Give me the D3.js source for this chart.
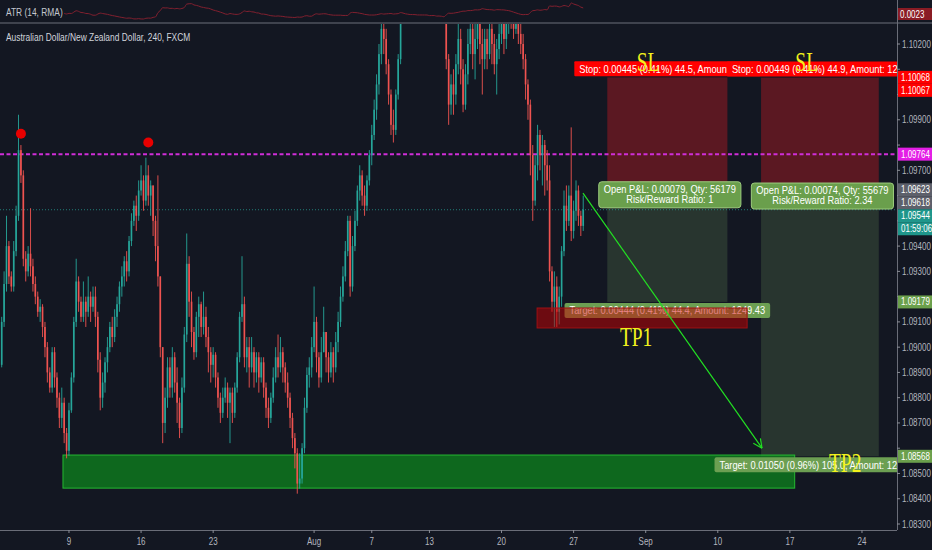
<!DOCTYPE html>
<html><head><meta charset="utf-8">
<script src="https://cdn.jsdelivr.net/npm/d3@7"></script>
<style>html,body{margin:0;padding:0;background:#131722;overflow:hidden}</style>
</head><body><svg id="c" width="932" height="550"></svg>
<script>
// ---------------- DATA (AUD/NZD, 240 min bars, FXCM; first bar 2018-07-02 08:00) ----------------
const firstOpen = 1.0893;
const closes = [1.0910,1.0925,1.0940,1.0928,1.0924,1.0938,1.0952,1.0978,1.0968,1.0935,
1.0930,1.0937,1.0932,1.0925,1.0920,1.0914,1.0916,1.0908,1.0900,1.0890,
1.0884,1.0898,1.0888,1.0880,1.0872,1.0878,1.0866,1.0859,1.0875,1.0888,
1.0910,1.0926,1.0918,1.0912,1.0918,1.0914,1.0920,1.0916,1.0920,1.0912,
1.0895,1.0880,1.0886,1.0894,1.0900,1.0908,1.0904,1.0912,1.0917,1.0924,
1.0928,1.0934,1.0930,1.0942,1.0950,1.0956,1.0952,1.0962,1.0966,1.0958,
1.0968,1.0960,1.0964,1.0950,1.0940,1.0928,1.0900,1.0870,1.0880,1.0892,
1.0884,1.0896,1.0886,1.0878,1.0868,1.0884,1.0905,1.0933,1.0918,1.0906,
1.0898,1.0912,1.0917,1.0908,1.0912,1.0904,1.0898,1.0893,1.0897,1.0888,
1.0880,1.0874,1.0880,1.0884,1.0878,1.0882,1.0874,1.0884,1.0896,1.0912,
1.0917,1.0896,1.0900,1.0892,1.0898,1.0890,1.0896,1.0888,1.0894,1.0884,
1.0876,1.0872,1.0880,1.0888,1.0896,1.0892,1.0898,1.0892,1.0886,1.0880,
1.0872,1.0864,1.0858,1.0846,1.0848,1.0860,1.0876,1.0889,1.0892,1.0900,
1.0910,1.0896,1.0888,1.0898,1.0906,1.0896,1.0890,1.0898,1.0892,1.0902,
1.0910,1.0920,1.0928,1.0938,1.0950,1.0924,1.0940,1.0950,1.0962,1.0968,
1.0960,1.0956,1.0966,1.0976,1.0984,1.0994,1.1004,1.1016,1.1026,1.1022,
1.1012,1.1000,1.0988,1.0986,1.1000,1.1014,1.1030,1.1040,1.1046,1.1052,
1.1048,1.1056,1.1062,1.1058,1.1064,1.1070,1.1066,1.1060,1.1064,1.1056,
1.1050,1.1054,1.1046,1.1040,1.1036,1.1014,1.0996,1.1004,1.1000,1.1012,
1.1022,1.1010,1.0996,1.1008,1.1020,1.1026,1.1016,1.1022,1.1028,1.1020,
1.1014,1.1022,1.1016,1.1026,1.1020,1.1012,1.1018,1.1024,1.1030,1.1022,
1.1028,1.1034,1.1030,1.1026,1.1030,1.1024,1.1020,1.1014,1.1004,1.0996,
1.0976,1.0958,1.0972,1.0984,1.0976,1.0980,1.0972,1.0966,1.0930,1.0918,
1.0924,1.0914,1.0920,1.0938,1.0956,1.0950,1.0960,1.0946,1.0954,1.0962,
1.0952,1.0948,1.09544];
const highs = [1.0912,1.0930,1.0952,1.0942,1.0930,1.0942,1.0956,1.0992,1.0980,1.0970,
1.0938,1.0940,1.0955,1.0935,1.0928,1.0922,1.0919,1.0917,1.0910,1.0902,
1.0892,1.0900,1.0900,1.0890,1.0882,1.0884,1.0880,1.0868,1.0878,1.0890,
1.0912,1.0935,1.0928,1.0920,1.0926,1.0920,1.0928,1.0922,1.0924,1.0924,
1.0914,1.0898,1.0890,1.0896,1.0904,1.0910,1.0912,1.0915,1.0920,1.0926,
1.0932,1.0936,1.0938,1.0944,1.0953,1.0958,1.0960,1.0966,1.0972,1.0968,
1.0975,1.0972,1.0966,1.0964,1.0952,1.0968,1.0928,1.0900,1.0884,1.0896,
1.0896,1.0900,1.0898,1.0892,1.0880,1.0888,1.0908,1.0945,1.0936,1.0922,
1.0908,1.0914,1.0920,1.0918,1.0922,1.0916,1.0908,1.0900,1.0900,1.0898,
1.0890,1.0882,1.0884,1.0888,1.0886,1.0884,1.0884,1.0886,1.0898,1.0914,
1.0936,1.0920,1.0904,1.0904,1.0904,1.0900,1.0898,1.0898,1.0896,1.0896,
1.0886,1.0880,1.0882,1.0892,1.0900,1.0905,1.0904,1.0900,1.0894,1.0890,
1.0882,1.0874,1.0866,1.0860,1.0858,1.0862,1.0880,1.0892,1.0896,1.0904,
1.0924,1.0912,1.0898,1.0904,1.0916,1.0906,1.0898,1.0902,1.0900,1.0906,
1.0914,1.0924,1.0932,1.0942,1.0952,1.0952,1.0944,1.0954,1.0964,1.0972,
1.0970,1.0964,1.0968,1.0978,1.0988,1.0998,1.1008,1.1020,1.1032,1.1030,
1.1026,1.1014,1.1002,1.0994,1.1002,1.1016,1.1036,1.1044,1.1050,1.1058,
1.1056,1.1062,1.1068,1.1066,1.1070,1.1076,1.1074,1.1070,1.1068,1.1066,
1.1060,1.1058,1.1056,1.1050,1.1044,1.1038,1.1016,1.1008,1.1010,1.1016,
1.1028,1.1026,1.1014,1.1012,1.1026,1.1034,1.1030,1.1028,1.1036,1.1032,
1.1026,1.1026,1.1026,1.1032,1.1030,1.1024,1.1022,1.1032,1.1038,1.1034,
1.1034,1.1040,1.1040,1.1034,1.1036,1.1032,1.1028,1.1024,1.1016,1.1006,
1.0998,1.0980,1.0976,1.0988,1.0986,1.0984,1.0982,1.0978,1.0972,1.0932,
1.0930,1.0928,1.0924,1.0940,1.0962,1.0964,1.0964,1.0987,1.0958,1.0966,
1.0964,1.0954,1.0960];
const lows = [1.0892,1.0908,1.0922,1.0925,1.0922,1.0922,1.0936,1.0950,1.0965,1.0932,
1.0926,1.0928,1.0928,1.0922,1.0917,1.0912,1.0910,1.0904,1.0896,1.0886,
1.0882,1.0882,1.0884,1.0876,1.0868,1.0868,1.0862,1.0856,1.0857,1.0874,
1.0886,1.0908,1.0914,1.0910,1.0910,1.0908,1.0912,1.0910,1.0914,1.0908,
1.0890,1.0875,1.0876,1.0882,1.0890,1.0898,1.0900,1.0902,1.0908,1.0914,
1.0920,1.0924,1.0926,1.0928,1.0940,1.0948,1.0946,1.0950,1.0960,1.0954,
1.0956,1.0956,1.0952,1.0944,1.0934,1.0924,1.0896,1.0862,1.0866,1.0876,
1.0880,1.0880,1.0882,1.0870,1.0864,1.0866,1.0882,1.0902,1.0912,1.0900,
1.0895,1.0896,1.0904,1.0904,1.0905,1.0900,1.0890,1.0886,1.0888,1.0884,
1.0876,1.0870,1.0872,1.0878,1.0872,1.0862,1.0870,1.0872,1.0882,1.0894,
1.0910,1.0892,1.0890,1.0884,1.0890,1.0884,1.0886,1.0882,1.0886,1.0880,
1.0872,1.0868,1.0870,1.0878,1.0886,1.0888,1.0890,1.0886,1.0882,1.0876,
1.0868,1.0860,1.0852,1.0842,1.0844,1.0846,1.0858,1.0874,1.0884,1.0888,
1.0898,1.0890,1.0884,1.0886,1.0900,1.0890,1.0886,1.0888,1.0886,1.0890,
1.0898,1.0908,1.0918,1.0926,1.0936,1.0920,1.0922,1.0938,1.0948,1.0958,
1.0956,1.0952,1.0954,1.0964,1.0972,1.0982,1.0990,1.1000,1.1012,1.1016,
1.1008,1.0996,1.0984,1.0981,1.0984,1.0998,1.1012,1.1031,1.1038,1.1044,
1.1042,1.1046,1.1052,1.1052,1.1054,1.1060,1.1058,1.1054,1.1056,1.1050,
1.1044,1.1046,1.1040,1.1036,1.1032,1.1010,1.0988,1.0992,1.0992,1.0996,
1.1008,1.1004,1.0993,1.0994,1.1004,1.1016,1.1010,1.1006,1.1018,1.1012,
1.1000,1.1010,1.1010,1.1014,1.1012,1.1008,1.1000,1.1014,1.1020,1.1016,
1.1018,1.1024,1.1026,1.1022,1.1024,1.1020,1.1016,1.1010,1.0998,1.0990,
1.0968,1.0950,1.0956,1.0966,1.0970,1.0964,1.0960,1.0962,1.0926,1.0914,
1.0908,1.0908,1.0909,1.0916,1.0936,1.0946,1.0948,1.0942,1.0943,1.0950,
1.0948,1.0944,1.0946];

const tickDates  = ["2018-07-09","2018-07-16","2018-07-23","2018-08-01","2018-08-07","2018-08-13","2018-08-20","2018-08-27","2018-09-03","2018-09-10","2018-09-17","2018-09-24"];
const tickLabels = ["9","16","23","Aug","7","13","20","27","Sep","10","17","24"];
const priceTicks = d3.range(1083, 1103).map(v => v / 1000);

const hLevel = 1.09764;            // magenta horizontal line
const lastPrice = 1.09544;
const countdown = "01:59:06";
const atrLastText = "0.0023";
const fractalDots = [{bar: 8, price: 1.09845}, {bar: 61, price: 1.09810}];
const supportZone = {bar0: 25.5, bar1: 330, top: 1.08573, bottom: 1.08442};
const tp1Zone = {bar0: 222.8, bar1: 310.2, top: 1.09155, bottom: 1.09076};
const arrow = {bar0: 241.9, p0: 1.0961, bar1: 316.4, p1: 1.0860};
const positions = [
  {startBar: 252, endBar: 302, entry: 1.09623, stop: 1.10068, target: 1.09179,
   stopText: "Stop: 0.00445 (0.41%) 44.5, Amount: 1250", targetText: "Target: 0.00444 (0.41%) 44.4, Amount: 1249.43",
   plText: "Open P&L: 0.00079, Qty: 56179", rrText: "Risk/Reward Ratio: 1"},
  {startBar: 316, endBar: 365, entry: 1.09618, stop: 1.10067, target: 1.08568,
   stopText: "Stop: 0.00449 (0.41%) 44.9, Amount: 1250", targetText: "Target: 0.01050 (0.96%) 105.0, Amount: 1249.43",
   plText: "Open P&L: 0.00074, Qty: 55679", rrText: "Risk/Reward Ratio: 2.34"}
];
const notes = [
  {text: "SL", bar: 269, price: 1.10095},
  {text: "SL", bar: 335, price: 1.10095},
  {text: "TP1", bar: 264, price: 1.09004},
  {text: "TP2", bar: 351, price: 1.08505}
];

// ---------------- RENDER ----------------
const svg = d3.select('#c');
const BG = '#131722', UP = '#26a69a', DN = '#ef5350';
const AX = 897, paneTop = 24, paneBottom = 530;
const FONT = '"Liberation Sans", Arial, sans-serif';
svg.append('rect').attr('width', 932).attr('height', 550).attr('fill', BG);

const x = d3.scaleLinear().domain([0, 400]).range([1.7, 1.7 + 400 * 2.403]);
const y = d3.scaleLinear().domain([1.083, 1.102]).range([524, 44]);

const bars = closes.map((c, i) => {
  const o = i ? closes[i - 1] : firstOpen;
  return {i, o, c, h: Math.max(highs[i], o, c), l: Math.min(lows[i], o, c)};
});

function T(parent, px, py, str, o = {}) {
  const sx = o.sx || 0.8;
  const g = parent.append('g').attr('transform', `translate(${px},${py}) scale(${sx},1)`);
  const t = g.append('text').text(str).attr('font-size', o.size || 10)
    .attr('font-family', o.family || FONT).attr('fill', o.fill || '#b2b5be')
    .attr('text-anchor', o.anchor || 'start');
  return {g, t, w: t.node().getComputedTextLength() * sx};
}

const defs = svg.append('defs');
defs.append('clipPath').attr('id', 'mc').append('rect').attr('x', 0).attr('y', paneTop).attr('width', AX).attr('height', paneBottom - paneTop);
defs.append('clipPath').attr('id', 'ac').append('rect').attr('x', 0).attr('y', 0).attr('width', AX).attr('height', 22);

const main = svg.append('g').attr('clip-path', 'url(#mc)');

// header
T(svg, 6, 41, 'Australian Dollar/New Zealand Dollar, 240, FXCM', {fill: '#d1d4dc', size: 10.5, sx: 0.8});

// position zones
positions.forEach(p => {
  const x0 = x(p.startBar), x1 = x(p.endBar);
  main.append('rect').attr('x', x0).attr('width', x1 - x0).attr('y', y(p.stop)).attr('height', y(p.entry) - y(p.stop)).attr('fill', '#5b1822');
  main.append('rect').attr('x', x0).attr('width', x1 - x0).attr('y', y(p.entry)).attr('height', y(p.target) - y(p.entry)).attr('fill', '#28352f');
});

// lines
main.append('line').attr('x1', 0).attr('x2', AX).attr('y1', y(lastPrice)).attr('y2', y(lastPrice))
  .attr('stroke', UP).attr('stroke-opacity', 0.7).attr('stroke-dasharray', '1,2');
main.append('line').attr('x1', 0).attr('x2', AX).attr('y1', y(hLevel)).attr('y2', y(hLevel))
  .attr('stroke', '#cf2ed8').attr('stroke-width', 2).attr('stroke-dasharray', '4,2.5');

// support zone
main.append('rect').attr('x', x(supportZone.bar0)).attr('width', x(supportZone.bar1) - x(supportZone.bar0))
  .attr('y', y(supportZone.top)).attr('height', y(supportZone.bottom) - y(supportZone.top))
  .attr('fill', 'rgba(10,185,25,0.5)').attr('stroke', '#25b832').attr('stroke-width', 1);

// candles
const bw = 2.403 * 0.68;
main.append('g').selectAll('line').data(bars).join('line')
  .attr('x1', d => x(d.i)).attr('x2', d => x(d.i)).attr('y1', d => y(d.h)).attr('y2', d => y(d.l))
  .attr('stroke', d => d.c >= d.o ? UP : DN).attr('stroke-width', 0.9);
main.append('g').selectAll('rect').data(bars).join('rect')
  .attr('x', d => x(d.i) - bw / 2).attr('width', bw)
  .attr('y', d => y(Math.max(d.o, d.c))).attr('height', d => Math.max(0.8, Math.abs(y(d.o) - y(d.c))))
  .attr('fill', d => d.c >= d.o ? UP : DN);

// position labels
positions.forEach(p => {
  const cx = (x(p.startBar) + x(p.endBar)) / 2;
  const sg = main.append('g');
  const st = T(sg, cx, y(p.stop) - 4.5, p.stopText, {fill: '#fff', anchor: 'middle', sx: 0.93});
  sg.insert('rect', 'g').attr('x', cx - st.w / 2 - 5).attr('width', st.w + 10).attr('y', y(p.stop) - 16).attr('height', 15).attr('fill', '#ff0000').attr('rx', 1);
  const tg = main.append('g');
  const tt = T(tg, cx, y(p.target) + 12.5, p.targetText, {fill: '#fff', anchor: 'middle', sx: 0.93});
  tg.insert('rect', 'g').attr('x', cx - tt.w / 2 - 5).attr('width', tt.w + 10).attr('y', y(p.target) + 1).attr('height', 15).attr('fill', '#6c9f52').attr('rx', 2);
  const bg = main.append('g');
  const l1 = T(bg, cx + 2.5, y(p.entry) + 3, p.plText, {fill: '#fff', anchor: 'middle', sx: 0.93});
  T(bg, cx + 2.5, y(p.entry) + 13, p.rrText, {fill: '#fff', anchor: 'middle', sx: 0.93});
  bg.insert('rect', 'g').attr('x', cx + 2.5 - l1.w / 2 - 5).attr('width', l1.w + 10).attr('y', y(p.entry) - 8).attr('height', 26)
    .attr('fill', '#6a9f4c').attr('stroke', '#9ccc7e').attr('stroke-width', 1).attr('rx', 3);
});

// TP1 box
main.append('rect').attr('x', x(tp1Zone.bar0)).attr('width', x(tp1Zone.bar1) - x(tp1Zone.bar0))
  .attr('y', y(tp1Zone.top)).attr('height', y(tp1Zone.bottom) - y(tp1Zone.top))
  .attr('fill', 'rgba(200,0,0,0.5)').attr('stroke', '#a01014').attr('stroke-width', 1);

// arrow
{
  const ax0 = x(arrow.bar0), ay0 = y(arrow.p0), ax1 = x(arrow.bar1), ay1 = y(arrow.p1);
  const ang = Math.atan2(ay1 - ay0, ax1 - ax0), L = 10;
  const ag = main.append('g').attr('stroke', '#22e022').attr('stroke-width', 1.2).attr('fill', 'none');
  ag.append('line').attr('x1', ax0).attr('y1', ay0).attr('x2', ax1).attr('y2', ay1);
  [-0.45, 0.45].forEach(da => ag.append('line').attr('x1', ax1).attr('y1', ay1)
    .attr('x2', ax1 - L * Math.cos(ang + da)).attr('y2', ay1 - L * Math.sin(ang + da)));
}

// fractal dots
main.append('g').selectAll('circle').data(fractalDots).join('circle')
  .attr('cx', d => x(d.bar)).attr('cy', d => y(d.price)).attr('r', 5).attr('fill', '#e80000');

// SL / TP notes
notes.forEach(n => T(main, x(n.bar), y(n.price), n.text,
  {fill: '#f2f21c', anchor: 'middle', size: 27, sx: 0.72, family: '"Liberation Serif", "Times New Roman", serif'}));

// ATR pane
{
  const tr = bars.map((b, i) => i ? Math.max(b.h - b.l, Math.abs(b.h - bars[i - 1].c), Math.abs(b.l - bars[i - 1].c)) : b.h - b.l);
  const atr = [];
  tr.forEach((v, i) => {
    if (i < 13) atr.push(null);
    else if (i === 13) atr.push(d3.mean(tr.slice(0, 14)));
    else atr.push((atr[i - 1] * 13 + v) / 14);
  });
  const pts = atr.map((v, i) => ({i, v})).filter(d => d.v != null && d.i >= 26);
  const ay = d3.scaleLinear().domain(d3.extent(pts, d => d.v)).range([19, 3]);
  svg.append('g').attr('clip-path', 'url(#ac)').append('path').datum(pts)
    .attr('d', d3.line().x(d => x(d.i)).y(d => ay(d.v)).curve(d3.curveMonotoneX))
    .attr('fill', 'none').attr('stroke', '#82202f').attr('stroke-width', 1);
  T(svg, 6, 16, 'ATR (14, RMA)', {fill: '#c4c7cf', size: 10.5, sx: 0.8});
  svg.append('rect').attr('x', AX).attr('y', 8).attr('width', 35).attr('height', 12).attr('fill', '#8a1c24');
  T(svg, 900, 17.5, atrLastText, {fill: '#fff'});
}
// pane separator
svg.append('rect').attr('x', 0).attr('y', 22).attr('width', 932).attr('height', 2).attr('fill', '#3f434e');

// coloured price labels with collision push-down (positions computed first)
const tagDefs = [
  {price: positions[0].stop, bg: '#ff0000'},
  {price: positions[1].stop, bg: '#ff0000'},
  {price: hLevel, bg: '#e41fe6'},
  {price: positions[0].entry, bg: '#5d606b'},
  {price: positions[1].entry, bg: '#5d606b'},
  {price: lastPrice, bg: '#1f968b'},
  {text: countdown, bg: '#1f968b', after: true},
  {price: positions[0].target, bg: '#6ba04c'},
  {price: positions[1].target, bg: '#6ba04c'}
];
let prevY = -100;
tagDefs.forEach(t => {
  let cy = t.after ? prevY + 13 : y(t.price);
  if (cy < prevY + 13) cy = prevY + 13;
  prevY = cy;
  t.cy = cy;
});

// right price axis
svg.append('line').attr('x1', AX + 0.5).attr('x2', AX + 0.5).attr('y1', 0).attr('y2', paneBottom).attr('stroke', '#6a6d78');
const pa = svg.append('g');
priceTicks.forEach(p => {
  pa.append('line').attr('x1', AX).attr('x2', AX + 3).attr('y1', y(p)).attr('y2', y(p)).attr('stroke', '#8a8d96');
  const hidden = tagDefs.some(t => Math.abs(t.cy - y(p)) < 12);
  if (!hidden) T(pa, 902, y(p) + 3.5, d3.format('.5f')(p), {fill: '#b2b5be'});
});
tagDefs.forEach(t => {
  svg.append('rect').attr('x', AX + 1).attr('y', t.cy - 6.5).attr('width', 35).attr('height', 13).attr('fill', t.bg);
  T(svg, 901, t.cy + 3.5, t.text || d3.format('.5f')(t.price), {fill: '#fff'});
});

// bottom time axis
svg.append('line').attr('x1', 0).attr('x2', AX).attr('y1', paneBottom + 0.5).attr('y2', paneBottom + 0.5).attr('stroke', '#6a6d78');
function barOf(ds) {
  const d0 = Date.UTC(2018, 6, 2), d = Date.parse(ds + 'T00:00:00Z');
  let days = 0;
  for (let t = d0; t < d; t += 864e5) { const wd = new Date(t).getUTCDay(); if (wd > 0 && wd < 6) days++; }
  return days * 6 - 2;
}
tickDates.forEach((ds, k) => {
  const bx = x(barOf(ds));
  svg.append('line').attr('x1', bx).attr('x2', bx).attr('y1', paneBottom).attr('y2', paneBottom + 3).attr('stroke', '#8a8d96');
  T(svg, bx, 545, tickLabels[k], {anchor: 'middle', fill: '#b2b5be'});
});
</script></body></html>
